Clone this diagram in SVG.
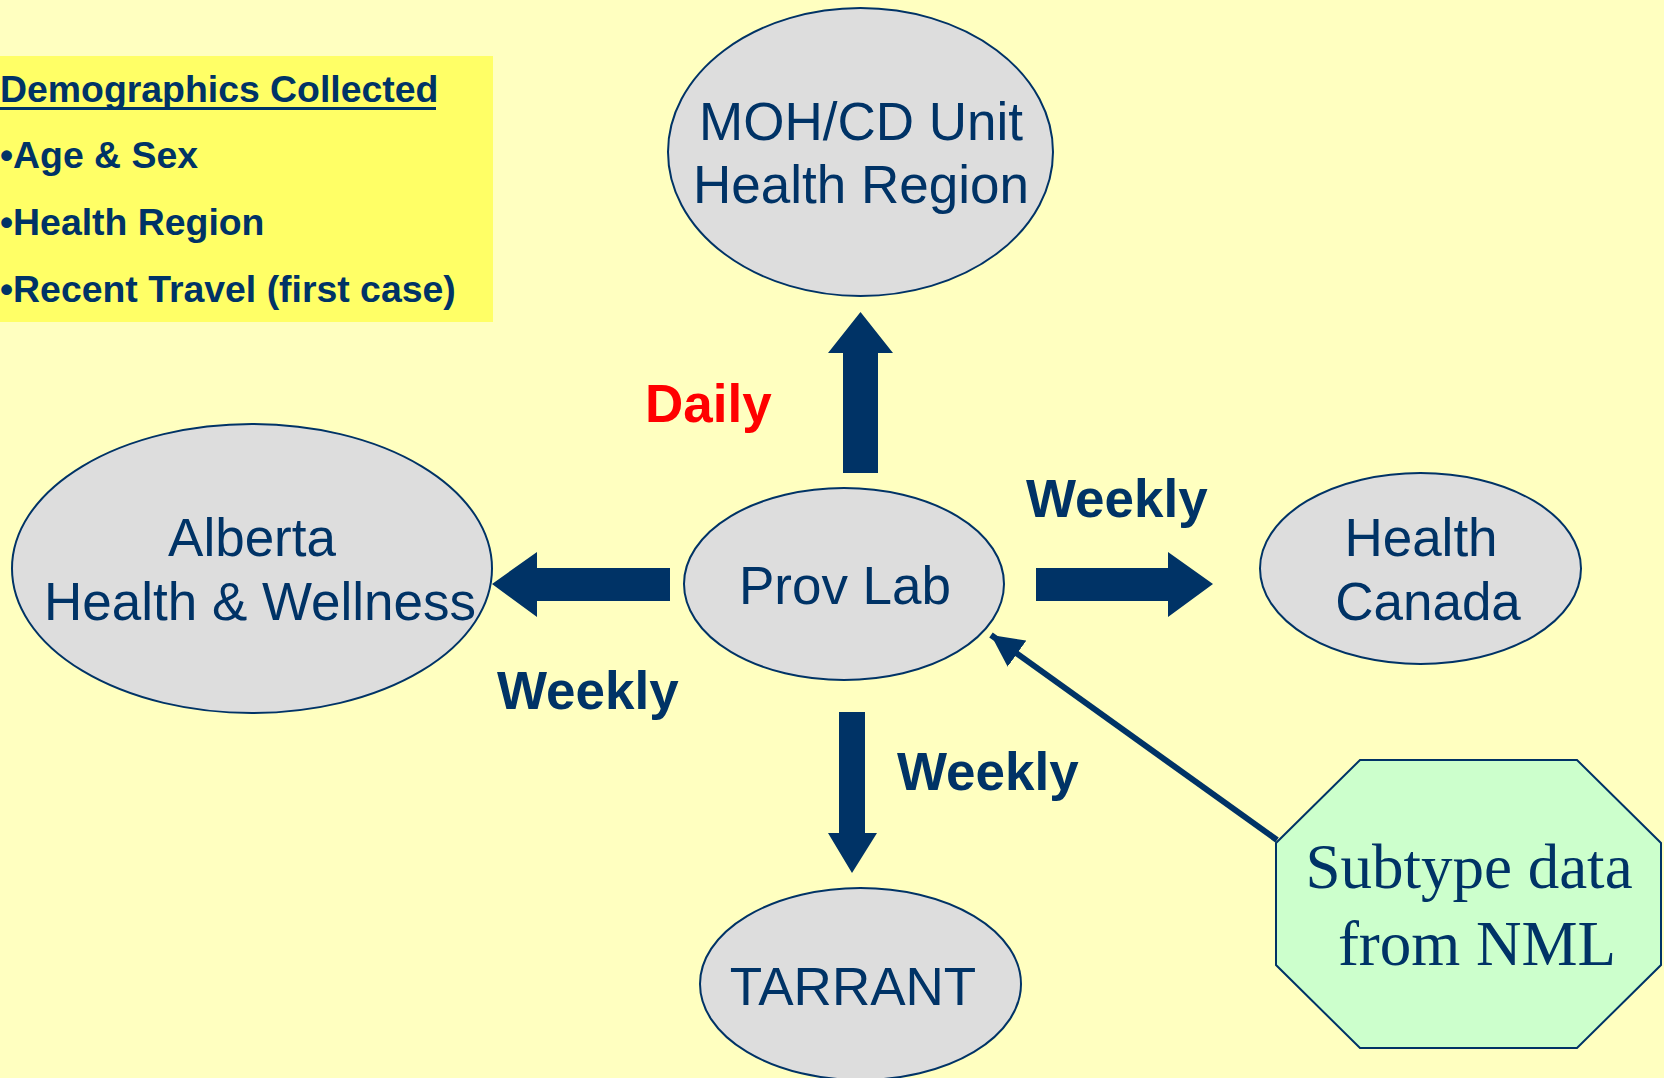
<svg xmlns="http://www.w3.org/2000/svg" width="1664" height="1078" viewBox="0 0 1664 1078">
<defs>
<style>
.node{fill:#DDDDDD;stroke:#003366;stroke-width:2}
.nt{font-family:"Liberation Sans",Arial,sans-serif;font-size:53px;fill:#003366;text-anchor:middle}
.lbl{font-family:"Liberation Sans",Arial,sans-serif;font-size:53px;font-weight:bold;fill:#003366}
.demo{font-family:"Liberation Sans",Arial,sans-serif;font-size:37.4px;font-weight:bold;fill:#003366}
.blk{fill:#003366}
</style>
<marker id="ah" markerUnits="userSpaceOnUse" markerWidth="34" markerHeight="34" viewBox="0 0 34 34" refX="32" refY="17" orient="auto">
<path d="M0,1 L32,17 L0,33 Z" fill="#003366"/>
</marker>
</defs>
<rect x="0" y="0" width="1664" height="1078" fill="#FFFFC0"/>

<g id="demographics">
<rect x="0" y="56" width="493" height="266" fill="#FFFF66"/>
<text class="demo" x="0" y="102">Demographics Collected</text>
<rect x="0" y="107" width="436" height="3" fill="#003366"/>
<text class="demo" x="0" y="168">•Age &amp; Sex</text>
<text class="demo" x="0" y="235">•Health Region</text>
<text class="demo" x="0" y="302">•Recent Travel (first case)</text>
</g>

<g id="connectors">
<polygon class="blk" points="843,473 878,473 878,353 893,353 860.5,312 828,353 843,353"/>
<polygon class="blk" points="670,568 670,601 537,601 537,617 492,584 537,552 537,568"/>
<polygon class="blk" points="1036,568 1036,601 1168,601 1168,617 1213,584 1168,552 1168,568"/>
<polygon class="blk" points="839,712 865,712 865,833 877,833 852,873 828,833 839,833"/>
<line x1="1277" y1="840" x2="991" y2="635" stroke="#003366" stroke-width="6" marker-end="url(#ah)"/>
</g>

<g id="label-daily"><text class="lbl" x="645" y="422" style="fill:#FF0000">Daily</text></g>
<g id="label-weekly-right"><text class="lbl" x="1026" y="517">Weekly</text></g>
<g id="label-weekly-left"><text class="lbl" x="497" y="709">Weekly</text></g>
<g id="label-weekly-down"><text class="lbl" x="897" y="790">Weekly</text></g>

<g id="moh">
<ellipse class="node" cx="860.5" cy="152" rx="192.5" ry="144"/>
<text class="nt" x="861" y="140">MOH/CD Unit</text>
<text class="nt" x="861" y="203">Health Region</text>
</g>

<g id="alberta">
<ellipse class="node" cx="252" cy="568.5" rx="240" ry="144.5"/>
<text class="nt" x="252" y="556">Alberta</text>
<text class="nt" x="260" y="620">Health &amp; Wellness</text>
</g>

<g id="provlab">
<ellipse class="node" cx="844" cy="584" rx="160" ry="96"/>
<text class="nt" x="845" y="604">Prov Lab</text>
</g>

<g id="healthcanada">
<ellipse class="node" cx="1420.5" cy="568.5" rx="160.5" ry="95.5"/>
<text class="nt" x="1421" y="556">Health</text>
<text class="nt" x="1428" y="620">Canada</text>
</g>

<g id="tarrant">
<ellipse class="node" cx="860.5" cy="984" rx="160.5" ry="96"/>
<text class="nt" x="853" y="1005">TARRANT</text>
</g>

<g id="nml">
<polygon points="1360,760 1577,760 1661,843 1661,965 1577,1048 1360,1048 1276,965 1276,843" fill="#CCFFCC" stroke="#003366" stroke-width="2"/>
<text x="1469" y="888" font-family="'Liberation Serif','Times New Roman',serif" font-size="63" fill="#003366" text-anchor="middle">Subtype data</text>
<text x="1477" y="965" font-family="'Liberation Serif','Times New Roman',serif" font-size="63" fill="#003366" text-anchor="middle">from NML</text>
</g>
</svg>
